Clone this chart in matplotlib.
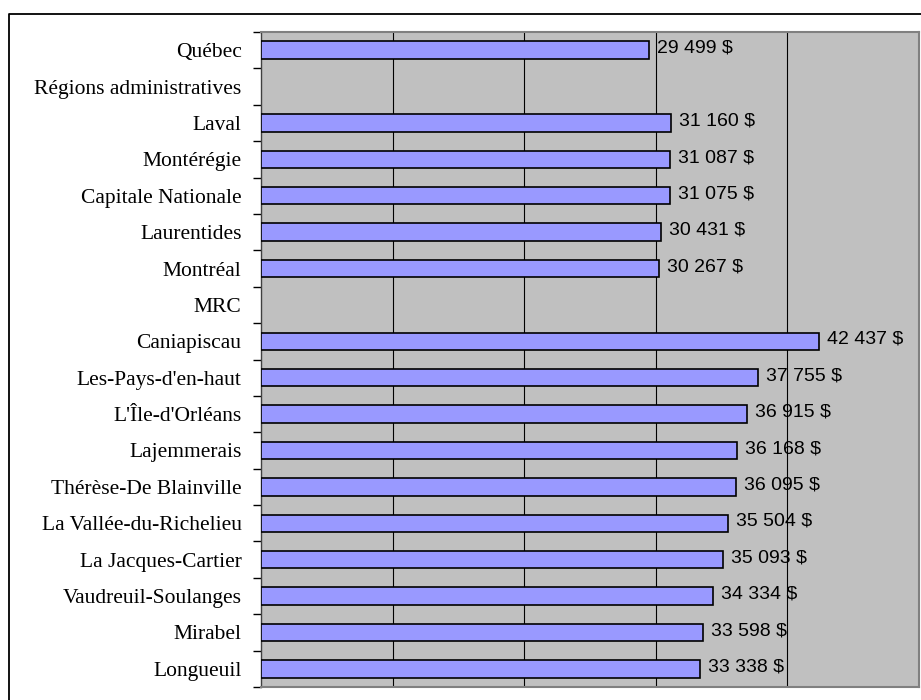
import numpy as np
import matplotlib.pyplot as plt
from matplotlib.lines import Line2D

# categories from top to bottom (empty value = section header)
labels = ["Québec", "Régions administratives", "Laval", "Montérégie",
          "Capitale Nationale", "Laurentides", "Montréal", "MRC",
          "Caniapiscau", "Les-Pays-d'en-haut", "L'Île-d'Orléans",
          "Lajemmerais", "Thérèse-De Blainville", "La Vallée-du-Richelieu",
          "La Jacques-Cartier", "Vaudreuil-Soulanges", "Mirabel", "Longueuil"]
values = [29499, None, 31160, 31087, 31075, 30431, 30267, None,
          42437, 37755, 36915, 36168, 36095, 35504, 35093, 34334, 33598, 33338]

W, H = 921, 700
fig = plt.figure(figsize=(W / 100, H / 100), dpi=100)
fig.patch.set_facecolor("white")

# plot area in pixels
left, right, top, bottom = 261, 919, 32, 687
ax = fig.add_axes([left / W, 1 - bottom / H, (right - left) / W, (bottom - top) / H])
ax.set_facecolor("#c0c0c0")

n = len(labels)
ypos = np.arange(n)
for y, v in zip(ypos, values):
    if v is None:
        continue
    ax.barh(y, v, height=0.48, color="#9999ff", edgecolor="black", linewidth=1.2, zorder=3)
    ax.text(v + 600, y - 0.05, f"{v:,}".replace(",", " ") + " $",
            ha="left", va="center", fontsize=14, family="Liberation Sans", zorder=4)

ax.set_xlim(0, 50000)
ax.set_ylim(n - 0.5, -0.5)
ax.set_xticks(np.arange(10000, 50000, 10000))
ax.set_xticklabels([])
ax.tick_params(axis="x", length=0)
ax.grid(axis="x", color="black", linewidth=0.8, zorder=1)
ax.set_axisbelow(True)

ax.set_yticks(ypos)
ax.set_yticklabels(labels, family="Liberation Serif", fontsize=15.5)
ax.set_yticks(np.arange(n + 1) - 0.5, minor=True)
ax.tick_params(axis="y", which="major", length=0, pad=14)
ax.tick_params(axis="y", which="minor", length=5.5, width=1, direction="out")

for side in ["top", "right", "bottom"]:
    ax.spines[side].set_color("#808080")
    ax.spines[side].set_linewidth(1.5)
ax.spines["left"].set_color("#404040")
ax.spines["left"].set_linewidth(1)

# outer chart border (cropped)
fig.add_artist(Line2D([9 / W, 9 / W, 1.0], [0.0, 1 - 14 / H, 1 - 14 / H],
                      transform=fig.transFigure, color="black", linewidth=1.3))

fig.savefig("out.png", dpi=100)
